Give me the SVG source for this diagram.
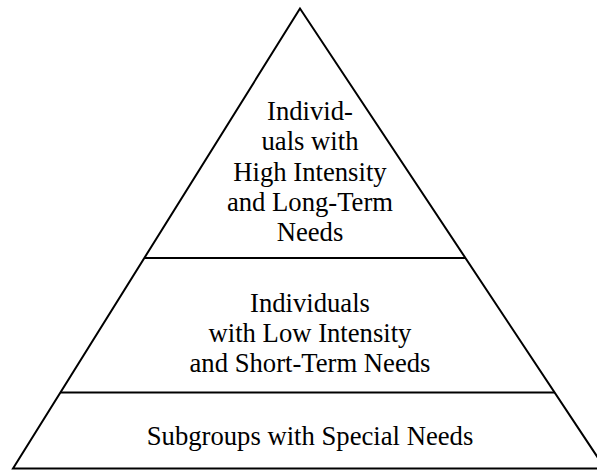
<svg xmlns="http://www.w3.org/2000/svg" width="597" height="474" viewBox="0 0 597 474">
<style>
.ln{fill:none;stroke:#000;stroke-width:2}
.t{font-family:"Liberation Serif","Times New Roman",serif;font-size:26.67px;fill:#000;text-anchor:middle}
</style>
<rect width="597" height="474" fill="#fff"/>
<g id="connectors">
<polygon class="ln" points="300,8.5 13,468.5 605,468.5"/>
<line class="ln" x1="144.3" y1="258" x2="465.4" y2="258"/>
<line class="ln" x1="60.4" y1="392.5" x2="554.6" y2="392.5"/>
</g>
<g id="top-tier">
<text class="t" x="310" y="119.5">Individ-</text>
<text class="t" x="310" y="150">uals with</text>
<text class="t" x="310" y="181">High Intensity</text>
<text class="t" x="310" y="211">and Long-Term</text>
<text class="t" x="310" y="241">Needs</text>
</g>
<g id="middle-tier">
<text class="t" x="310" y="312">Individuals</text>
<text class="t" x="310" y="342">with Low Intensity</text>
<text class="t" x="310" y="372">and Short-Term Needs</text>
</g>
<g id="bottom-tier">
<text class="t" x="310" y="445">Subgroups with Special Needs</text>
</g>
</svg>
